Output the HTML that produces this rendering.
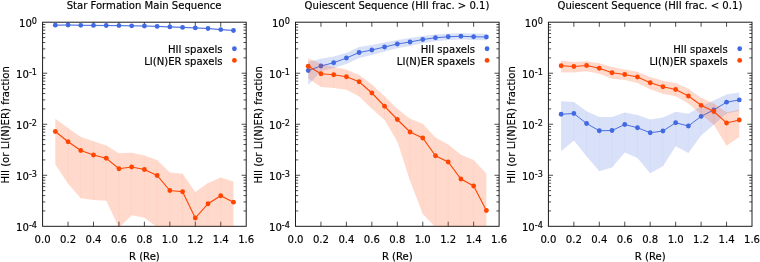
<!DOCTYPE html>
<html><head><meta charset="utf-8"><title>HII and LI(N)ER fraction</title>
<style>html,body{margin:0;padding:0;background:#fff}svg{display:block}</style></head>
<body>
<svg width="760" height="262" viewBox="0 0 760 262" font-family="'DejaVu Sans', 'Liberation Sans', sans-serif" font-size="10.08px" fill="#000"><style>text{stroke:#000;stroke-width:0.18px;stroke-opacity:0.9}</style>
<rect width="760" height="262" fill="#fff"/>
<clipPath id="c0"><rect x="42.6" y="22.2" width="203.6" height="204.10000000000002"/></clipPath>
<path d="M68.05,226.3v-4.6M68.05,22.2v4.6M93.50,226.3v-4.6M93.50,22.2v4.6M118.95,226.3v-4.6M118.95,22.2v4.6M144.40,226.3v-4.6M144.40,22.2v4.6M169.85,226.3v-4.6M169.85,22.2v4.6M195.30,226.3v-4.6M195.30,22.2v4.6M220.75,226.3v-4.6M220.75,22.2v4.6M42.6,57.86h2.7M246.2,57.86h-2.7M42.6,48.88h2.7M246.2,48.88h-2.7M42.6,42.50h2.7M246.2,42.50h-2.7M42.6,37.56h2.7M246.2,37.56h-2.7M42.6,33.52h2.7M246.2,33.52h-2.7M42.6,30.10h2.7M246.2,30.10h-2.7M42.6,27.14h2.7M246.2,27.14h-2.7M42.6,24.53h2.7M246.2,24.53h-2.7M42.6,73.23h4.6M246.2,73.23h-4.6M42.6,108.89h2.7M246.2,108.89h-2.7M42.6,99.90h2.7M246.2,99.90h-2.7M42.6,93.53h2.7M246.2,93.53h-2.7M42.6,88.59h2.7M246.2,88.59h-2.7M42.6,84.54h2.7M246.2,84.54h-2.7M42.6,81.13h2.7M246.2,81.13h-2.7M42.6,78.17h2.7M246.2,78.17h-2.7M42.6,75.56h2.7M246.2,75.56h-2.7M42.6,124.25h4.6M246.2,124.25h-4.6M42.6,159.91h2.7M246.2,159.91h-2.7M42.6,150.93h2.7M246.2,150.93h-2.7M42.6,144.55h2.7M246.2,144.55h-2.7M42.6,139.61h2.7M246.2,139.61h-2.7M42.6,135.57h2.7M246.2,135.57h-2.7M42.6,132.15h2.7M246.2,132.15h-2.7M42.6,129.19h2.7M246.2,129.19h-2.7M42.6,126.58h2.7M246.2,126.58h-2.7M42.6,175.28h4.6M246.2,175.28h-4.6M42.6,210.94h2.7M246.2,210.94h-2.7M42.6,201.95h2.7M246.2,201.95h-2.7M42.6,195.58h2.7M246.2,195.58h-2.7M42.6,190.64h2.7M246.2,190.64h-2.7M42.6,186.59h2.7M246.2,186.59h-2.7M42.6,183.18h2.7M246.2,183.18h-2.7M42.6,180.22h2.7M246.2,180.22h-2.7M42.6,177.61h2.7M246.2,177.61h-2.7" stroke="#111" stroke-width="0.75" fill="none"/>
<rect x="42.6" y="22.2" width="203.6" height="204.10000000000002" fill="none" stroke="#111" stroke-width="0.95"/>
<g clip-path="url(#c0)">
<polygon points="55.33,24.40 68.05,24.20 80.77,24.50 93.50,24.60 106.22,24.70 118.95,24.80 131.67,25.00 144.40,25.20 157.12,25.60 169.85,26.10 182.57,26.60 195.30,27.10 208.02,27.70 220.75,28.80 233.47,29.70 233.47,31.30 220.75,30.40 208.02,29.30 195.30,28.70 182.57,28.20 169.85,27.70 157.12,27.20 144.40,26.80 131.67,26.60 118.95,26.40 106.22,26.30 93.50,26.20 80.77,26.10 68.05,25.80 55.33,26.00" fill="#4169e1" fill-opacity="0.2"/><path d="M68.05,24.20V25.80M80.77,24.50V26.10M93.50,24.60V26.20M106.22,24.70V26.30M118.95,24.80V26.40M131.67,25.00V26.60M144.40,25.20V26.80M157.12,25.60V27.20M169.85,26.10V27.70M182.57,26.60V28.20M195.30,27.10V28.70M208.02,27.70V29.30M220.75,28.80V30.40" stroke="#4169e1" stroke-opacity="0.045" stroke-width="1" fill="none"/>
<polyline points="55.33,25.20 68.05,25.00 80.77,25.30 93.50,25.40 106.22,25.50 118.95,25.60 131.67,25.80 144.40,26.00 157.12,26.40 169.85,26.90 182.57,27.40 195.30,27.90 208.02,28.50 220.75,29.60 233.47,30.50" fill="none" stroke="#4169e1" stroke-width="0.95"/><circle cx="55.33" cy="25.20" r="2.4" fill="#4169e1"/><circle cx="68.05" cy="25.00" r="2.4" fill="#4169e1"/><circle cx="80.77" cy="25.30" r="2.4" fill="#4169e1"/><circle cx="93.50" cy="25.40" r="2.4" fill="#4169e1"/><circle cx="106.22" cy="25.50" r="2.4" fill="#4169e1"/><circle cx="118.95" cy="25.60" r="2.4" fill="#4169e1"/><circle cx="131.67" cy="25.80" r="2.4" fill="#4169e1"/><circle cx="144.40" cy="26.00" r="2.4" fill="#4169e1"/><circle cx="157.12" cy="26.40" r="2.4" fill="#4169e1"/><circle cx="169.85" cy="26.90" r="2.4" fill="#4169e1"/><circle cx="182.57" cy="27.40" r="2.4" fill="#4169e1"/><circle cx="195.30" cy="27.90" r="2.4" fill="#4169e1"/><circle cx="208.02" cy="28.50" r="2.4" fill="#4169e1"/><circle cx="220.75" cy="29.60" r="2.4" fill="#4169e1"/><circle cx="233.47" cy="30.50" r="2.4" fill="#4169e1"/>
<polygon points="55.33,118.75 68.05,128.00 80.77,137.00 93.50,141.25 106.22,145.50 118.95,153.25 131.67,152.75 144.40,155.50 157.12,160.00 169.85,172.50 182.57,173.75 195.30,192.00 208.02,183.00 220.75,177.50 233.47,181.60 233.47,240.00 220.75,240.00 208.02,240.00 195.30,240.00 182.57,240.00 169.85,240.00 157.12,227.10 144.40,217.80 131.67,215.20 118.95,227.80 106.22,200.70 93.50,200.00 80.77,198.25 68.05,183.75 55.33,164.50" fill="#ff4500" fill-opacity="0.2"/><path d="M68.05,128.00V183.75M80.77,137.00V198.25M93.50,141.25V200.00M106.22,145.50V200.70M118.95,153.25V227.80M131.67,152.75V215.20M144.40,155.50V217.80M157.12,160.00V227.10M169.85,172.50V240.00M182.57,173.75V240.00M195.30,192.00V240.00M208.02,183.00V240.00M220.75,177.50V240.00" stroke="#ff4500" stroke-opacity="0.045" stroke-width="1" fill="none"/>
<polyline points="55.33,131.50 68.05,141.75 80.77,150.50 93.50,155.00 106.22,158.25 118.95,168.75 131.67,167.00 144.40,169.50 157.12,175.50 169.85,190.50 182.57,191.75 195.30,218.00 208.02,203.75 220.75,195.75 233.47,202.20" fill="none" stroke="#ff4500" stroke-width="1.1"/><circle cx="55.33" cy="131.50" r="2.4" fill="#ff4500"/><circle cx="68.05" cy="141.75" r="2.4" fill="#ff4500"/><circle cx="80.77" cy="150.50" r="2.4" fill="#ff4500"/><circle cx="93.50" cy="155.00" r="2.4" fill="#ff4500"/><circle cx="106.22" cy="158.25" r="2.4" fill="#ff4500"/><circle cx="118.95" cy="168.75" r="2.4" fill="#ff4500"/><circle cx="131.67" cy="167.00" r="2.4" fill="#ff4500"/><circle cx="144.40" cy="169.50" r="2.4" fill="#ff4500"/><circle cx="157.12" cy="175.50" r="2.4" fill="#ff4500"/><circle cx="169.85" cy="190.50" r="2.4" fill="#ff4500"/><circle cx="182.57" cy="191.75" r="2.4" fill="#ff4500"/><circle cx="195.30" cy="218.00" r="2.4" fill="#ff4500"/><circle cx="208.02" cy="203.75" r="2.4" fill="#ff4500"/><circle cx="220.75" cy="195.75" r="2.4" fill="#ff4500"/><circle cx="233.47" cy="202.20" r="2.4" fill="#ff4500"/>
</g>
<text x="222.50" y="52.8" text-anchor="end">HII spaxels</text><circle cx="234.4" cy="48.75" r="2.4" fill="#4169e1"/>
<text x="222.50" y="64.5" text-anchor="end">LI(N)ER spaxels</text><circle cx="234.4" cy="60.4" r="2.4" fill="#ff4500"/>
<text x="42.60" y="242.7" text-anchor="middle">0.0</text>
<text x="68.05" y="242.7" text-anchor="middle">0.2</text>
<text x="93.50" y="242.7" text-anchor="middle">0.4</text>
<text x="118.95" y="242.7" text-anchor="middle">0.6</text>
<text x="144.40" y="242.7" text-anchor="middle">0.8</text>
<text x="169.85" y="242.7" text-anchor="middle">1.0</text>
<text x="195.30" y="242.7" text-anchor="middle">1.2</text>
<text x="220.75" y="242.7" text-anchor="middle">1.4</text>
<text x="246.20" y="242.7" text-anchor="middle">1.6</text>
<text x="37.0" y="27.00" text-anchor="end">10<tspan dy="-3.3" font-size="8.1px">0</tspan></text>
<text x="37.0" y="78.03" text-anchor="end">10<tspan dy="-3.3" font-size="8.1px">-1</tspan></text>
<text x="37.0" y="129.05" text-anchor="end">10<tspan dy="-3.3" font-size="8.1px">-2</tspan></text>
<text x="37.0" y="180.08" text-anchor="end">10<tspan dy="-3.3" font-size="8.1px">-3</tspan></text>
<text x="37.0" y="231.10" text-anchor="end">10<tspan dy="-3.3" font-size="8.1px">-4</tspan></text>
<text x="144.1" y="9.1" text-anchor="middle">Star Formation Main Sequence</text>
<text x="144.4" y="259.9" text-anchor="middle">R (Re)</text>
<text transform="translate(8.800000000000004,124.85) rotate(-90)" text-anchor="middle">HII (or LI(N)ER) fraction</text>
<clipPath id="c1"><rect x="295.5" y="22.2" width="203.6" height="204.10000000000002"/></clipPath>
<path d="M320.95,226.3v-4.6M320.95,22.2v4.6M346.40,226.3v-4.6M346.40,22.2v4.6M371.85,226.3v-4.6M371.85,22.2v4.6M397.30,226.3v-4.6M397.30,22.2v4.6M422.75,226.3v-4.6M422.75,22.2v4.6M448.20,226.3v-4.6M448.20,22.2v4.6M473.65,226.3v-4.6M473.65,22.2v4.6M295.5,57.86h2.7M499.1,57.86h-2.7M295.5,48.88h2.7M499.1,48.88h-2.7M295.5,42.50h2.7M499.1,42.50h-2.7M295.5,37.56h2.7M499.1,37.56h-2.7M295.5,33.52h2.7M499.1,33.52h-2.7M295.5,30.10h2.7M499.1,30.10h-2.7M295.5,27.14h2.7M499.1,27.14h-2.7M295.5,24.53h2.7M499.1,24.53h-2.7M295.5,73.23h4.6M499.1,73.23h-4.6M295.5,108.89h2.7M499.1,108.89h-2.7M295.5,99.90h2.7M499.1,99.90h-2.7M295.5,93.53h2.7M499.1,93.53h-2.7M295.5,88.59h2.7M499.1,88.59h-2.7M295.5,84.54h2.7M499.1,84.54h-2.7M295.5,81.13h2.7M499.1,81.13h-2.7M295.5,78.17h2.7M499.1,78.17h-2.7M295.5,75.56h2.7M499.1,75.56h-2.7M295.5,124.25h4.6M499.1,124.25h-4.6M295.5,159.91h2.7M499.1,159.91h-2.7M295.5,150.93h2.7M499.1,150.93h-2.7M295.5,144.55h2.7M499.1,144.55h-2.7M295.5,139.61h2.7M499.1,139.61h-2.7M295.5,135.57h2.7M499.1,135.57h-2.7M295.5,132.15h2.7M499.1,132.15h-2.7M295.5,129.19h2.7M499.1,129.19h-2.7M295.5,126.58h2.7M499.1,126.58h-2.7M295.5,175.28h4.6M499.1,175.28h-4.6M295.5,210.94h2.7M499.1,210.94h-2.7M295.5,201.95h2.7M499.1,201.95h-2.7M295.5,195.58h2.7M499.1,195.58h-2.7M295.5,190.64h2.7M499.1,190.64h-2.7M295.5,186.59h2.7M499.1,186.59h-2.7M295.5,183.18h2.7M499.1,183.18h-2.7M295.5,180.22h2.7M499.1,180.22h-2.7M295.5,177.61h2.7M499.1,177.61h-2.7" stroke="#111" stroke-width="0.75" fill="none"/>
<rect x="295.5" y="22.2" width="203.6" height="204.10000000000002" fill="none" stroke="#111" stroke-width="0.95"/>
<g clip-path="url(#c1)">
<polygon points="308.23,61.80 320.95,58.70 333.68,56.50 346.40,53.00 359.12,47.00 371.85,45.00 384.57,42.50 397.30,40.00 410.02,38.00 422.75,36.00 435.48,34.50 448.20,33.50 460.92,33.25 473.65,33.50 486.38,33.70 486.38,40.30 473.65,40.00 460.92,39.50 448.20,40.00 435.48,41.25 422.75,43.25 410.02,46.00 397.30,48.25 384.57,51.50 371.85,55.00 359.12,58.00 346.40,63.90 333.68,68.10 320.95,71.30 308.23,84.90" fill="#4169e1" fill-opacity="0.2"/><path d="M320.95,58.70V71.30M333.68,56.50V68.10M346.40,53.00V63.90M359.12,47.00V58.00M371.85,45.00V55.00M384.57,42.50V51.50M397.30,40.00V48.25M410.02,38.00V46.00M422.75,36.00V43.25M435.48,34.50V41.25M448.20,33.50V40.00M460.92,33.25V39.50M473.65,33.50V40.00" stroke="#4169e1" stroke-opacity="0.045" stroke-width="1" fill="none"/>
<polyline points="308.23,70.50 320.95,66.00 333.68,62.75 346.40,58.00 359.12,52.50 371.85,50.00 384.57,47.00 397.30,44.00 410.02,42.00 422.75,39.50 435.48,37.75 448.20,36.75 460.92,36.25 473.65,36.75 486.38,37.00" fill="none" stroke="#4169e1" stroke-width="0.95"/><circle cx="308.23" cy="70.50" r="2.4" fill="#4169e1"/><circle cx="320.95" cy="66.00" r="2.4" fill="#4169e1"/><circle cx="333.68" cy="62.75" r="2.4" fill="#4169e1"/><circle cx="346.40" cy="58.00" r="2.4" fill="#4169e1"/><circle cx="359.12" cy="52.50" r="2.4" fill="#4169e1"/><circle cx="371.85" cy="50.00" r="2.4" fill="#4169e1"/><circle cx="384.57" cy="47.00" r="2.4" fill="#4169e1"/><circle cx="397.30" cy="44.00" r="2.4" fill="#4169e1"/><circle cx="410.02" cy="42.00" r="2.4" fill="#4169e1"/><circle cx="422.75" cy="39.50" r="2.4" fill="#4169e1"/><circle cx="435.48" cy="37.75" r="2.4" fill="#4169e1"/><circle cx="448.20" cy="36.75" r="2.4" fill="#4169e1"/><circle cx="460.92" cy="36.25" r="2.4" fill="#4169e1"/><circle cx="473.65" cy="36.75" r="2.4" fill="#4169e1"/><circle cx="486.38" cy="37.00" r="2.4" fill="#4169e1"/>
<polygon points="308.23,58.20 320.95,63.75 333.68,67.00 346.40,69.50 359.12,75.00 371.85,84.50 384.57,96.25 397.30,108.75 410.02,118.75 422.75,123.75 435.48,137.50 448.20,144.60 460.92,154.80 473.65,160.00 486.38,173.50 486.38,240.00 473.65,240.00 460.92,240.00 448.20,240.00 435.48,227.30 422.75,213.90 410.02,180.80 397.30,141.50 384.57,120.00 371.85,108.75 359.12,96.50 346.40,89.70 333.68,88.00 320.95,87.00 308.23,78.60" fill="#ff4500" fill-opacity="0.2"/><path d="M320.95,63.75V87.00M333.68,67.00V88.00M346.40,69.50V89.70M359.12,75.00V96.50M371.85,84.50V108.75M384.57,96.25V120.00M397.30,108.75V141.50M410.02,118.75V180.80M422.75,123.75V213.90M435.48,137.50V227.30M448.20,144.60V240.00M460.92,154.80V240.00M473.65,160.00V240.00" stroke="#ff4500" stroke-opacity="0.045" stroke-width="1" fill="none"/>
<polyline points="308.23,66.25 320.95,73.75 333.68,74.75 346.40,76.75 359.12,81.75 371.85,93.00 384.57,106.25 397.30,119.50 410.02,132.00 422.75,138.00 435.48,155.75 448.20,162.00 460.92,179.00 473.65,186.00 486.38,210.50" fill="none" stroke="#ff4500" stroke-width="1.1"/><circle cx="308.23" cy="66.25" r="2.4" fill="#ff4500"/><circle cx="320.95" cy="73.75" r="2.4" fill="#ff4500"/><circle cx="333.68" cy="74.75" r="2.4" fill="#ff4500"/><circle cx="346.40" cy="76.75" r="2.4" fill="#ff4500"/><circle cx="359.12" cy="81.75" r="2.4" fill="#ff4500"/><circle cx="371.85" cy="93.00" r="2.4" fill="#ff4500"/><circle cx="384.57" cy="106.25" r="2.4" fill="#ff4500"/><circle cx="397.30" cy="119.50" r="2.4" fill="#ff4500"/><circle cx="410.02" cy="132.00" r="2.4" fill="#ff4500"/><circle cx="422.75" cy="138.00" r="2.4" fill="#ff4500"/><circle cx="435.48" cy="155.75" r="2.4" fill="#ff4500"/><circle cx="448.20" cy="162.00" r="2.4" fill="#ff4500"/><circle cx="460.92" cy="179.00" r="2.4" fill="#ff4500"/><circle cx="473.65" cy="186.00" r="2.4" fill="#ff4500"/><circle cx="486.38" cy="210.50" r="2.4" fill="#ff4500"/>
</g>
<text x="475.10" y="52.8" text-anchor="end">HII spaxels</text><circle cx="487.05" cy="48.75" r="2.4" fill="#4169e1"/>
<text x="475.10" y="64.5" text-anchor="end">LI(N)ER spaxels</text><circle cx="487.05" cy="60.4" r="2.4" fill="#ff4500"/>
<text x="295.50" y="242.7" text-anchor="middle">0.0</text>
<text x="320.95" y="242.7" text-anchor="middle">0.2</text>
<text x="346.40" y="242.7" text-anchor="middle">0.4</text>
<text x="371.85" y="242.7" text-anchor="middle">0.6</text>
<text x="397.30" y="242.7" text-anchor="middle">0.8</text>
<text x="422.75" y="242.7" text-anchor="middle">1.0</text>
<text x="448.20" y="242.7" text-anchor="middle">1.2</text>
<text x="473.65" y="242.7" text-anchor="middle">1.4</text>
<text x="499.10" y="242.7" text-anchor="middle">1.6</text>
<text x="289.9" y="27.00" text-anchor="end">10<tspan dy="-3.3" font-size="8.1px">0</tspan></text>
<text x="289.9" y="78.03" text-anchor="end">10<tspan dy="-3.3" font-size="8.1px">-1</tspan></text>
<text x="289.9" y="129.05" text-anchor="end">10<tspan dy="-3.3" font-size="8.1px">-2</tspan></text>
<text x="289.9" y="180.08" text-anchor="end">10<tspan dy="-3.3" font-size="8.1px">-3</tspan></text>
<text x="289.9" y="231.10" text-anchor="end">10<tspan dy="-3.3" font-size="8.1px">-4</tspan></text>
<text x="397.0" y="9.1" text-anchor="middle">Quiescent Sequence (HII frac. &gt; 0.1)</text>
<text x="397.3" y="259.9" text-anchor="middle">R (Re)</text>
<text transform="translate(261.7,124.85) rotate(-90)" text-anchor="middle">HII (or LI(N)ER) fraction</text>
<clipPath id="c2"><rect x="548.4" y="22.2" width="203.6" height="204.10000000000002"/></clipPath>
<path d="M573.85,226.3v-4.6M573.85,22.2v4.6M599.30,226.3v-4.6M599.30,22.2v4.6M624.75,226.3v-4.6M624.75,22.2v4.6M650.20,226.3v-4.6M650.20,22.2v4.6M675.65,226.3v-4.6M675.65,22.2v4.6M701.10,226.3v-4.6M701.10,22.2v4.6M726.55,226.3v-4.6M726.55,22.2v4.6M548.4,57.86h2.7M752.0,57.86h-2.7M548.4,48.88h2.7M752.0,48.88h-2.7M548.4,42.50h2.7M752.0,42.50h-2.7M548.4,37.56h2.7M752.0,37.56h-2.7M548.4,33.52h2.7M752.0,33.52h-2.7M548.4,30.10h2.7M752.0,30.10h-2.7M548.4,27.14h2.7M752.0,27.14h-2.7M548.4,24.53h2.7M752.0,24.53h-2.7M548.4,73.23h4.6M752.0,73.23h-4.6M548.4,108.89h2.7M752.0,108.89h-2.7M548.4,99.90h2.7M752.0,99.90h-2.7M548.4,93.53h2.7M752.0,93.53h-2.7M548.4,88.59h2.7M752.0,88.59h-2.7M548.4,84.54h2.7M752.0,84.54h-2.7M548.4,81.13h2.7M752.0,81.13h-2.7M548.4,78.17h2.7M752.0,78.17h-2.7M548.4,75.56h2.7M752.0,75.56h-2.7M548.4,124.25h4.6M752.0,124.25h-4.6M548.4,159.91h2.7M752.0,159.91h-2.7M548.4,150.93h2.7M752.0,150.93h-2.7M548.4,144.55h2.7M752.0,144.55h-2.7M548.4,139.61h2.7M752.0,139.61h-2.7M548.4,135.57h2.7M752.0,135.57h-2.7M548.4,132.15h2.7M752.0,132.15h-2.7M548.4,129.19h2.7M752.0,129.19h-2.7M548.4,126.58h2.7M752.0,126.58h-2.7M548.4,175.28h4.6M752.0,175.28h-4.6M548.4,210.94h2.7M752.0,210.94h-2.7M548.4,201.95h2.7M752.0,201.95h-2.7M548.4,195.58h2.7M752.0,195.58h-2.7M548.4,190.64h2.7M752.0,190.64h-2.7M548.4,186.59h2.7M752.0,186.59h-2.7M548.4,183.18h2.7M752.0,183.18h-2.7M548.4,180.22h2.7M752.0,180.22h-2.7M548.4,177.61h2.7M752.0,177.61h-2.7" stroke="#111" stroke-width="0.75" fill="none"/>
<rect x="548.4" y="22.2" width="203.6" height="204.10000000000002" fill="none" stroke="#111" stroke-width="0.95"/>
<g clip-path="url(#c2)">
<polygon points="561.12,101.25 573.85,102.00 586.57,111.25 599.30,117.00 612.02,117.00 624.75,112.50 637.47,115.00 650.20,119.50 662.92,117.50 675.65,111.75 688.38,113.75 701.10,106.25 713.82,100.60 726.55,94.40 739.27,92.40 739.27,111.00 726.55,113.50 713.82,124.70 701.10,135.50 688.38,153.00 675.65,146.25 662.92,166.25 650.20,173.25 637.47,158.00 624.75,152.50 612.02,167.50 599.30,171.25 586.57,156.25 573.85,140.50 561.12,151.25" fill="#4169e1" fill-opacity="0.2"/><path d="M573.85,102.00V140.50M586.57,111.25V156.25M599.30,117.00V171.25M612.02,117.00V167.50M624.75,112.50V152.50M637.47,115.00V158.00M650.20,119.50V173.25M662.92,117.50V166.25M675.65,111.75V146.25M688.38,113.75V153.00M701.10,106.25V135.50M713.82,100.60V124.70M726.55,94.40V113.50" stroke="#4169e1" stroke-opacity="0.045" stroke-width="1" fill="none"/>
<polyline points="561.12,114.25 573.85,113.50 586.57,123.50 599.30,130.75 612.02,130.50 624.75,124.50 637.47,127.75 650.20,132.75 662.92,131.00 675.65,122.75 688.38,126.00 701.10,116.40 713.82,109.90 726.55,102.20 739.27,99.90" fill="none" stroke="#4169e1" stroke-width="0.95"/><circle cx="561.12" cy="114.25" r="2.4" fill="#4169e1"/><circle cx="573.85" cy="113.50" r="2.4" fill="#4169e1"/><circle cx="586.57" cy="123.50" r="2.4" fill="#4169e1"/><circle cx="599.30" cy="130.75" r="2.4" fill="#4169e1"/><circle cx="612.02" cy="130.50" r="2.4" fill="#4169e1"/><circle cx="624.75" cy="124.50" r="2.4" fill="#4169e1"/><circle cx="637.47" cy="127.75" r="2.4" fill="#4169e1"/><circle cx="650.20" cy="132.75" r="2.4" fill="#4169e1"/><circle cx="662.92" cy="131.00" r="2.4" fill="#4169e1"/><circle cx="675.65" cy="122.75" r="2.4" fill="#4169e1"/><circle cx="688.38" cy="126.00" r="2.4" fill="#4169e1"/><circle cx="701.10" cy="116.40" r="2.4" fill="#4169e1"/><circle cx="713.82" cy="109.90" r="2.4" fill="#4169e1"/><circle cx="726.55" cy="102.20" r="2.4" fill="#4169e1"/><circle cx="739.27" cy="99.90" r="2.4" fill="#4169e1"/>
<polygon points="561.12,60.50 573.85,62.00 586.57,61.25 599.30,63.25 612.02,67.00 624.75,69.50 637.47,71.75 650.20,77.00 662.92,80.75 675.65,83.00 688.38,88.75 701.10,97.70 713.82,103.60 726.55,112.30 739.27,109.80 739.27,137.10 726.55,145.70 713.82,124.70 701.10,114.40 688.38,103.50 675.65,96.25 662.92,93.75 650.20,89.25 637.47,83.00 624.75,80.00 612.02,78.75 599.30,73.75 586.57,71.25 573.85,72.50 561.12,72.50" fill="#ff4500" fill-opacity="0.2"/><path d="M573.85,62.00V72.50M586.57,61.25V71.25M599.30,63.25V73.75M612.02,67.00V78.75M624.75,69.50V80.00M637.47,71.75V83.00M650.20,77.00V89.25M662.92,80.75V93.75M675.65,83.00V96.25M688.38,88.75V103.50M701.10,97.70V114.40M713.82,103.60V124.70M726.55,112.30V145.70" stroke="#ff4500" stroke-opacity="0.045" stroke-width="1" fill="none"/>
<polyline points="561.12,65.75 573.85,66.50 586.57,65.50 599.30,68.25 612.02,72.75 624.75,74.50 637.47,77.00 650.20,82.75 662.92,86.75 675.65,89.50 688.38,96.00 701.10,105.30 713.82,111.50 726.55,123.00 739.27,120.00" fill="none" stroke="#ff4500" stroke-width="1.1"/><circle cx="561.12" cy="65.75" r="2.4" fill="#ff4500"/><circle cx="573.85" cy="66.50" r="2.4" fill="#ff4500"/><circle cx="586.57" cy="65.50" r="2.4" fill="#ff4500"/><circle cx="599.30" cy="68.25" r="2.4" fill="#ff4500"/><circle cx="612.02" cy="72.75" r="2.4" fill="#ff4500"/><circle cx="624.75" cy="74.50" r="2.4" fill="#ff4500"/><circle cx="637.47" cy="77.00" r="2.4" fill="#ff4500"/><circle cx="650.20" cy="82.75" r="2.4" fill="#ff4500"/><circle cx="662.92" cy="86.75" r="2.4" fill="#ff4500"/><circle cx="675.65" cy="89.50" r="2.4" fill="#ff4500"/><circle cx="688.38" cy="96.00" r="2.4" fill="#ff4500"/><circle cx="701.10" cy="105.30" r="2.4" fill="#ff4500"/><circle cx="713.82" cy="111.50" r="2.4" fill="#ff4500"/><circle cx="726.55" cy="123.00" r="2.4" fill="#ff4500"/><circle cx="739.27" cy="120.00" r="2.4" fill="#ff4500"/>
</g>
<text x="727.70" y="52.8" text-anchor="end">HII spaxels</text><circle cx="739.7" cy="48.75" r="2.4" fill="#4169e1"/>
<text x="727.70" y="64.5" text-anchor="end">LI(N)ER spaxels</text><circle cx="739.7" cy="60.4" r="2.4" fill="#ff4500"/>
<text x="548.40" y="242.7" text-anchor="middle">0.0</text>
<text x="573.85" y="242.7" text-anchor="middle">0.2</text>
<text x="599.30" y="242.7" text-anchor="middle">0.4</text>
<text x="624.75" y="242.7" text-anchor="middle">0.6</text>
<text x="650.20" y="242.7" text-anchor="middle">0.8</text>
<text x="675.65" y="242.7" text-anchor="middle">1.0</text>
<text x="701.10" y="242.7" text-anchor="middle">1.2</text>
<text x="726.55" y="242.7" text-anchor="middle">1.4</text>
<text x="752.00" y="242.7" text-anchor="middle">1.6</text>
<text x="542.8" y="27.00" text-anchor="end">10<tspan dy="-3.3" font-size="8.1px">0</tspan></text>
<text x="542.8" y="78.03" text-anchor="end">10<tspan dy="-3.3" font-size="8.1px">-1</tspan></text>
<text x="542.8" y="129.05" text-anchor="end">10<tspan dy="-3.3" font-size="8.1px">-2</tspan></text>
<text x="542.8" y="180.08" text-anchor="end">10<tspan dy="-3.3" font-size="8.1px">-3</tspan></text>
<text x="542.8" y="231.10" text-anchor="end">10<tspan dy="-3.3" font-size="8.1px">-4</tspan></text>
<text x="649.9" y="9.1" text-anchor="middle">Quiescent Sequence (HII frac. &lt; 0.1)</text>
<text x="650.1999999999999" y="259.9" text-anchor="middle">R (Re)</text>
<text transform="translate(514.6,124.85) rotate(-90)" text-anchor="middle">HII (or LI(N)ER) fraction</text>
</svg>
</body></html>
